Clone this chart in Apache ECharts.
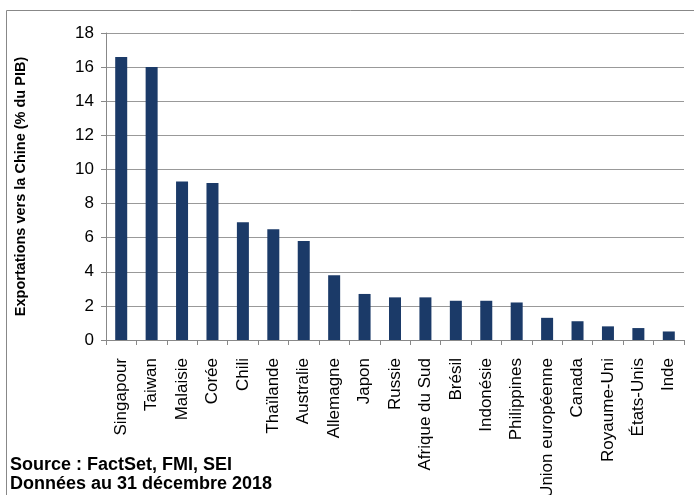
<!DOCTYPE html>
<html><head><meta charset="utf-8">
<script src="https://cdn.jsdelivr.net/npm/echarts@6/dist/echarts.min.js"></script>
<style>html,body{margin:0;padding:0;background:#fff}#c{width:694px;height:495px}</style>
</head><body><div id="c"></div>
<script>
const categories = ["Singapour","Taiwan","Malaisie","Corée","Chili","Thaïlande","Australie","Allemagne","Japon","Russie","Afrique du Sud","Brésil","Indonésie","Philippines","Union européenne","Canada","Royaume-Uni","États-Unis","Inde"];
const values = [16.6,16.0,9.3,9.2,6.9,6.5,5.8,3.8,2.7,2.5,2.5,2.3,2.3,2.2,1.3,1.1,0.8,0.7,0.5];
const yTicks = [0,2,4,6,8,10,12,14,16,18];
const yTitle = "Exportations vers la Chine (% du PIB)";
const sourceLines = ["Source : FactSet, FMI, SEI","Données au 31 décembre 2018"];

const chart = echarts.init(document.getElementById('c'), null, {renderer:'canvas'});
const F = "'Liberation Sans', Arial, sans-serif";
chart.setOption({
  animation:false,
  textStyle:{fontFamily:F},
  grid:{left:106,right:10,top:33,bottom:155,containLabel:false,outerBoundsMode:'none'},
  xAxis:{type:'category',data:categories,
    axisLine:{lineStyle:{color:'#888',width:1}},
    axisTick:{show:true,alignWithLabel:false,length:5,lineStyle:{color:'#888'}},
    axisLabel:{rotate:90,interval:0,color:'#000',fontSize:17,fontFamily:F,margin:18}},
  yAxis:{type:'value',min:0,max:18,interval:2,
    axisLine:{show:true,lineStyle:{color:'#888'}},
    axisTick:{show:true,length:5,lineStyle:{color:'#888'}},
    splitLine:{lineStyle:{color:'#999',width:1}},
    axisLabel:{color:'#000',fontSize:17,fontFamily:F,margin:12,
      formatter:v=>yTicks.includes(v)?String(v):''},
    name:yTitle,nameLocation:'middle',nameGap:78,nameRotate:90,
    nameTextStyle:{fontWeight:'bold',fontSize:14.5,color:'#000',fontFamily:F}},
  series:[{type:'bar',data:values,barWidth:12,itemStyle:{color:'#1B3A68'}}],
  graphic:[
    {type:'rect',shape:{x:6.5,y:10.5,width:700,height:600},style:{fill:'none',stroke:'#888',lineWidth:1},silent:true,z:-1},
    {type:'text',left:10,top:456,style:{text:sourceLines[0],font:"bold 18px 'Liberation Sans', Arial, sans-serif",fill:'#000'}},
    {type:'text',left:10,top:475,style:{text:sourceLines[1],font:"bold 18px 'Liberation Sans', Arial, sans-serif",fill:'#000'}}
  ]
});
</script></body></html>
